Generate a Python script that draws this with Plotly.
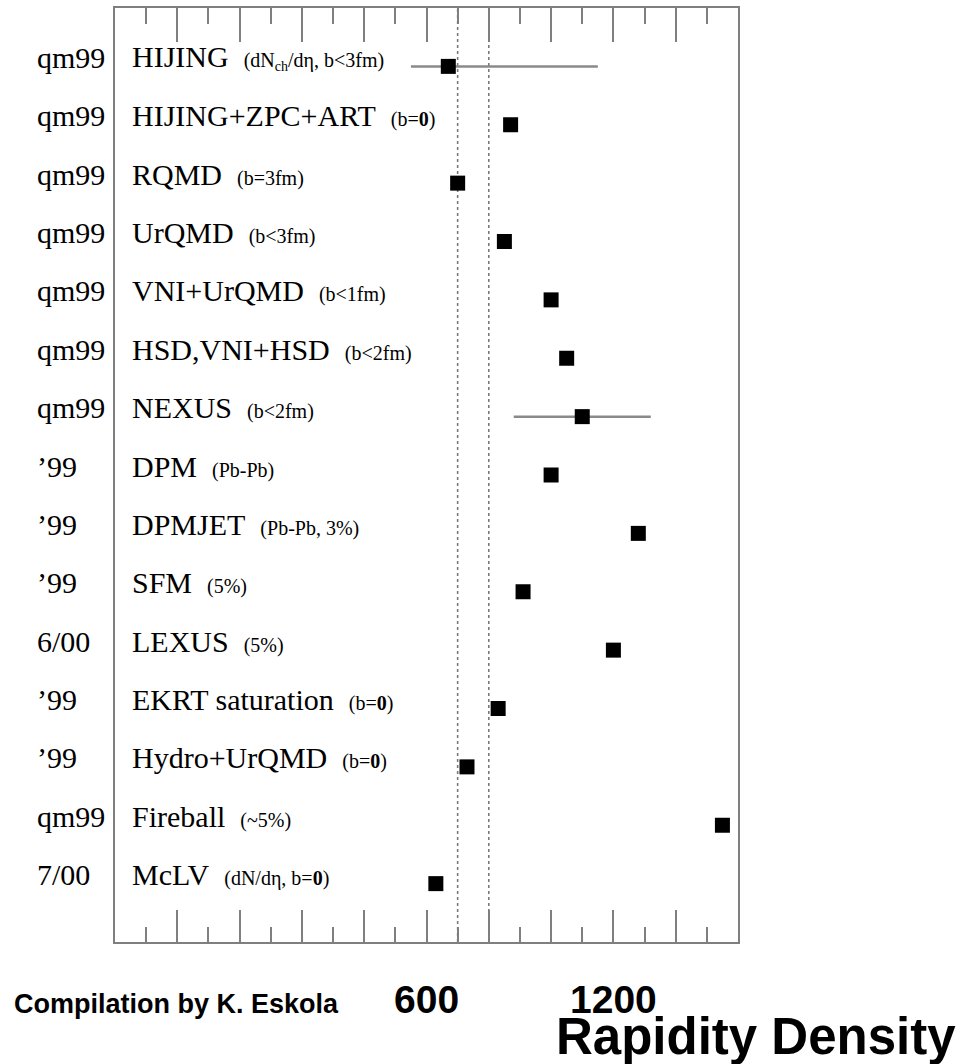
import plotly.graph_objects as go

# ---- data ----
years = ["qm99", "qm99", "qm99", "qm99", "qm99", "qm99", "qm99",
         "’99", "’99", "’99", "6/00", "’99", "’99", "qm99", "7/00"]
models = ["HIJING", "HIJING+ZPC+ART", "RQMD", "UrQMD", "VNI+UrQMD",
          "HSD,VNI+HSD", "NEXUS", "DPM", "DPMJET", "SFM", "LEXUS",
          "EKRT saturation", "Hydro+UrQMD", "Fireball", "McLV"]
notes = ["(dN<sub>ch</sub>/dη, b&lt;3fm)", "(b=<b>0</b>)", "(b=3fm)", "(b&lt;3fm)",
         "(b&lt;1fm)", "(b&lt;2fm)", "(b&lt;2fm)", "(Pb-Pb)", "(Pb-Pb, 3%)",
         "(5%)", "(5%)", "(b=<b>0</b>)", "(b=<b>0</b>)", "(~5%)", "(dN/dη, b=<b>0</b>)"]
values = [670, 870, 700, 850, 1000, 1050, 1100, 1000, 1280, 910, 1200, 830, 730, 1550, 630]
err_lo = [550, None, None, None, None, None, 880, None, None, None, None, None, None, None, None]
err_hi = [1150, None, None, None, None, None, 1320, None, None, None, None, None, None, None, None]
band = [700, 800]
tick_labels = [600, 1200]

# ---- layout constants ----
W, H = 968, 1064
L, R, T, B = 115, 738, 8, 942
PW, PH = R - L, B - T
XR = [-400, 1600]

def px2paper_x(px):
    return (px - L) / PW

def px2paper_y(py):
    return (B - py) / PH

rows = list(range(len(models)))
plus = [(h - v) if h is not None else 0 for h, v in zip(err_hi, values)]
minus = [(v - l) if l is not None else 0 for l, v in zip(err_lo, values)]

fig = go.Figure()
fig.add_trace(go.Scatter(
    x=values, y=rows, mode="markers",
    marker=dict(symbol="square", size=15, color="black", line=dict(width=0)),
    error_x=dict(type="data", symmetric=False, array=plus, arrayminus=minus,
                 width=0, thickness=2.5, color="#8a8a8a"),
    showlegend=False, hoverinfo="skip"))
# invisible trace on top axis so its ticks render
fig.add_trace(go.Scatter(x=[values[0]], y=[0], xaxis="x2", mode="markers",
                         marker=dict(opacity=0), showlegend=False, hoverinfo="skip"))

for b in band:
    fig.add_shape(type="line", xref="x", yref="paper", x0=b, x1=b, y0=0, y1=1,
                  line=dict(color="#7a7a7a", width=1.6, dash="dot"), layer="below")

serif = "Liberation Serif, Times New Roman, serif"
ann = []
for i in rows:
    ann.append(dict(x=px2paper_x(35), y=i, xref="paper", yref="y",
                    xanchor="left", yanchor="middle", yshift=9, showarrow=False,
                    text=years[i], font=dict(family=serif, size=30, color="black")))
    ann.append(dict(x=px2paper_x(130), y=i, xref="paper", yref="y",
                    xanchor="left", yanchor="middle", yshift=9, showarrow=False,
                    text=models[i] + "\u2002<span style='font-size:20px'>" + notes[i] + "</span>",
                    font=dict(family=serif, size=30, color="black")))

sans = "Liberation Sans, Arial, sans-serif"
for v in tick_labels:
    ann.append(dict(x=v, y=px2paper_y(999), xref="x", yref="paper",
                    xanchor="center", yanchor="middle", showarrow=False,
                    text="<b>%d</b>" % v, font=dict(family=sans, size=39, color="black")))
ann.append(dict(x=px2paper_x(12), y=px2paper_y(1004), xref="paper", yref="paper",
                xanchor="left", yanchor="middle", showarrow=False,
                text="<b>Compilation by K. Eskola</b>",
                font=dict(family=sans, size=27, color="black")))
ann.append(dict(x=px2paper_x(958), y=px2paper_y(1036), xref="paper", yref="paper",
                xanchor="right", yanchor="middle", showarrow=False,
                text="<b>Rapidity Density</b>",
                font=dict(family=sans, size=51, color="black")))

axcol = "#7f7f7f"
common_x = dict(range=XR, showgrid=False, zeroline=False, showticklabels=False,
                ticks="inside", tick0=0, dtick=200, tickwidth=2, tickcolor=axcol,
                showline=True, linecolor=axcol, linewidth=2,
                minor=dict(ticks="inside", tick0=0, dtick=100, tickwidth=2,
                           tickcolor=axcol, showgrid=False))
xa = dict(common_x); xa.update(ticklen=32, minor=dict(common_x["minor"], ticklen=15), mirror=False)
xb = dict(common_x); xb.update(ticklen=34, minor=dict(common_x["minor"], ticklen=16),
                               overlaying="x", side="top", anchor="y", matches="x")

fig.update_layout(
    width=W, height=H, autosize=False,
    margin=dict(l=L, r=W - R, t=T, b=H - B, pad=0),
    paper_bgcolor="white", plot_bgcolor="white",
    xaxis=xa, xaxis2=xb,
    yaxis=dict(range=[len(models), -1], showgrid=False, zeroline=False,
               showticklabels=False, ticks="", showline=True, mirror=True,
               linecolor=axcol, linewidth=2),
    annotations=ann,
)

fig.write_html("out.html")
